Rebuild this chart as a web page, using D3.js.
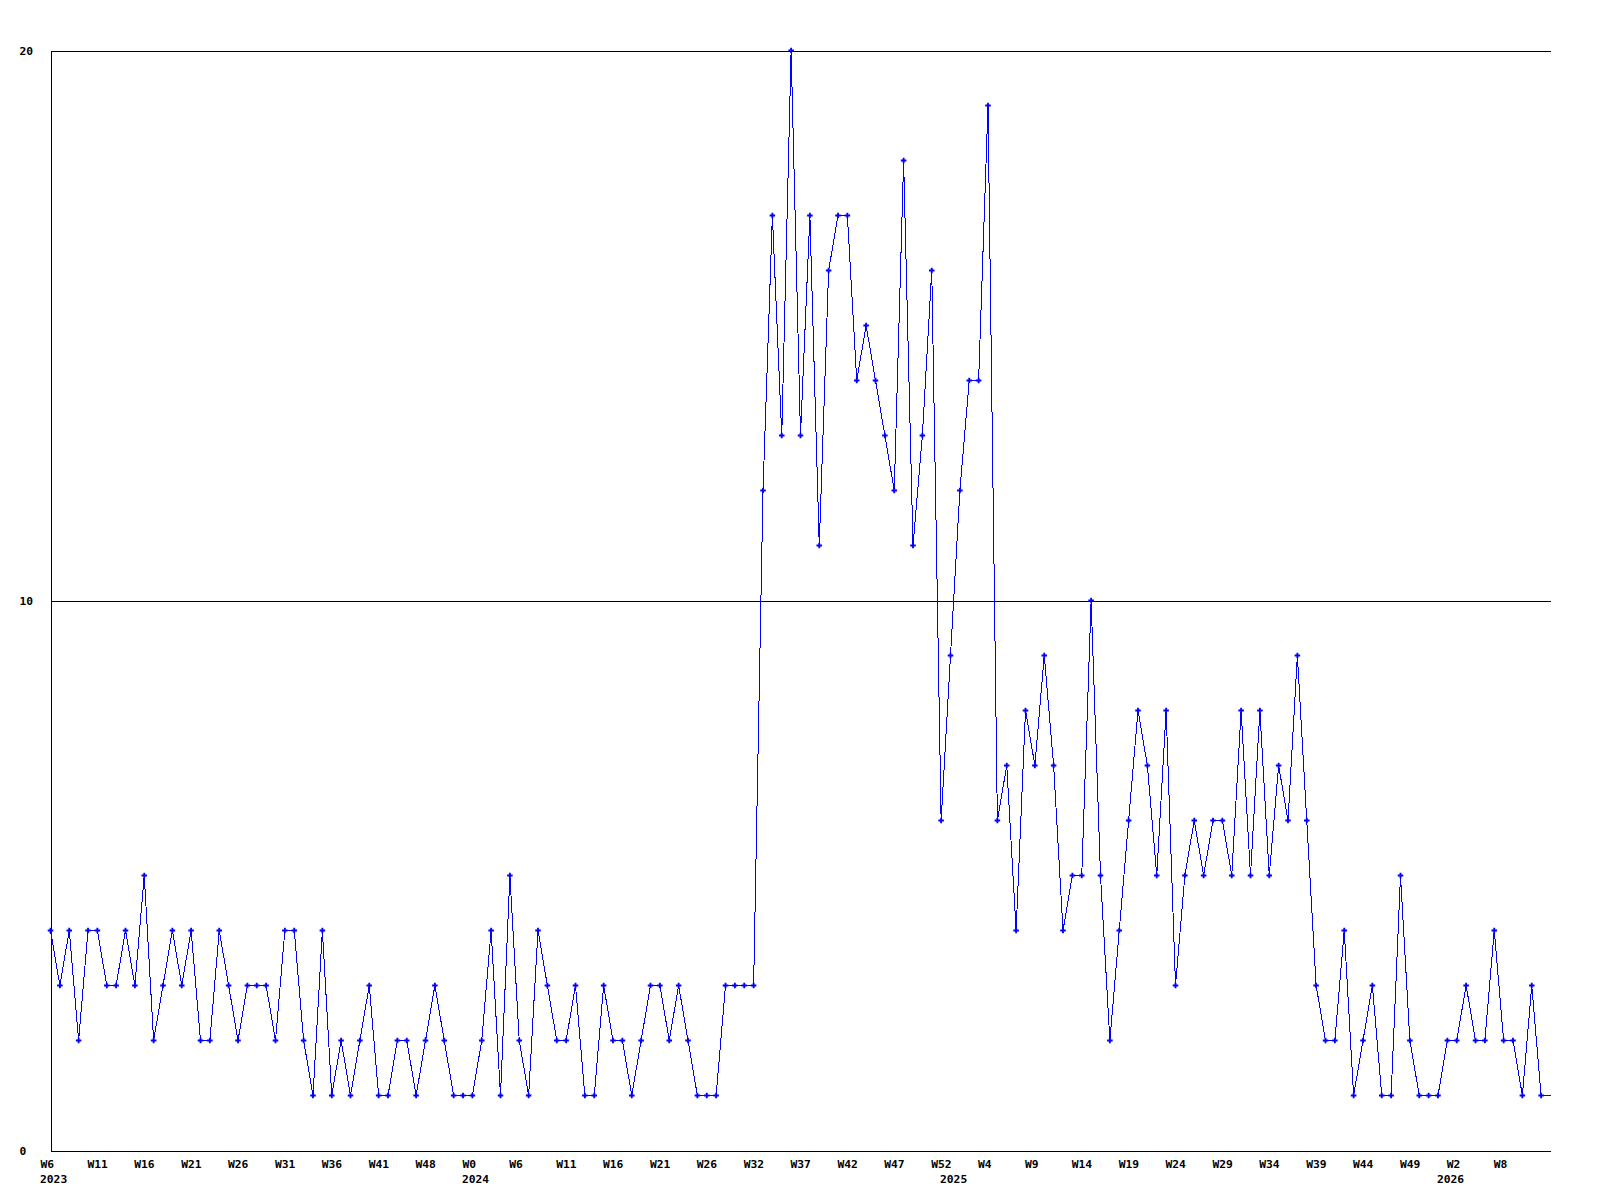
<!DOCTYPE html>
<html>
<head>
<meta charset="utf-8">
<script src="https://cdn.jsdelivr.net/npm/d3@7"></script>
<style>
  html, body { margin: 0; padding: 0; background: #ffffff; }
  svg { display: block; }
  text { font-family: "DejaVu Sans Mono", "Liberation Mono", monospace; font-weight: bold; font-size: 11.3px; fill: #000; }
</style>
</head>
<body>
<svg id="chart" width="1600" height="1200"></svg>
<script>
// Weekly counts, W6 2023 .. W10 2026 (last value is the current, open week)
const weekValues = [
  4,3,4,2,4,4,3,3,4,3,
  5,2,3,4,3,4,2,2,4,3,
  2,3,3,3,2,4,4,2,1,4,
  1,2,1,2,3,1,1,2,2,1,
  2,3,2,1,1,1,2,4,1,5,
  2,1,4,3,2,2,3,1,1,3,
  2,2,1,2,3,3,2,3,2,1,
  1,1,3,3,3,3,12,17,13,20,
  13,17,11,16,17,17,14,15,14,13,
  12,18,11,13,16,6,9,12,14,14,
  19,6,7,4,8,7,9,7,4,5,
  5,10,5,2,4,6,8,7,5,8,
  3,5,6,5,6,6,5,8,5,8,
  5,7,6,9,6,3,2,2,4,1,
  2,3,1,1,5,2,1,1,1,2,
  2,3,2,2,4,2,2,1,3,1,
  1
];

// x-axis week labels (index of the week in weekValues, label text)
const tickIndex  = [0,5,10,15,20,25,30,35,40,45,50,55,60,65,70,75,80,85,90,95,100,105,110,115,120,125,130,135,140,145,150,155];
const tickLabels = ["W6","W11","W16","W21","W26","W31","W36","W41","W48","W0","W6","W11","W16","W21","W26","W32","W37","W42","W47","W52","W4","W9","W14","W19","W24","W29","W34","W39","W44","W49","W2","W8"];

// year labels under the first week of each year
const yearIndex  = [0, 45, 96, 149];
const yearLabels = ["2023", "2024", "2025", "2026"];

// y-axis ticks
const yTicks = [0, 10, 20];

const svg = d3.select("#chart");
svg.append("rect").attr("width", 1600).attr("height", 1200).attr("fill", "#ffffff");

const plotLeft = 50.5, plotRight = 1550.5, plotTop = 50.5, plotBottom = 1150.5;

const x = d3.scaleLinear().domain([0, weekValues.length - 1]).range([plotLeft, plotRight]);
const y = d3.scaleLinear().domain([0, 20]).range([plotBottom, plotTop]);

// Y axis with gridlines
const yAxis = svg.append("g")
  .attr("transform", `translate(${plotLeft},0)`)
  .call(d3.axisLeft(y).tickValues(yTicks).tickSize(-(plotRight - plotLeft)).tickSizeOuter(0).tickFormat(d3.format("d")));
yAxis.attr("font-family", null).attr("font-size", null);
yAxis.select(".domain").attr("stroke", "#000").attr("shape-rendering", "crispEdges");
yAxis.selectAll(".tick line").attr("stroke", "#000").attr("shape-rendering", "crispEdges");
yAxis.selectAll(".tick text")
  .attr("text-anchor", "start")
  .attr("x", 19.5 - plotLeft)
  .attr("dy", "0.35em");

// X axis
const xAxis = svg.append("g")
  .attr("transform", `translate(0,${plotBottom})`)
  .call(d3.axisBottom(x).tickValues(tickIndex).tickSize(0).tickSizeOuter(0)
        .tickFormat((d, i) => tickLabels[i]));
xAxis.attr("font-family", null).attr("font-size", null);
xAxis.select(".domain").attr("stroke", "#000").attr("shape-rendering", "crispEdges");
xAxis.selectAll(".tick text")
  .attr("text-anchor", "start")
  .attr("x", -10.5)
  .attr("y", 17)
  .attr("dy", 0);

// Year labels
svg.append("g").selectAll("text")
  .data(yearIndex)
  .join("text")
  .attr("x", d => x(d) - 10.5)
  .attr("y", plotBottom + 32.5)
  .text((d, i) => yearLabels[i]);

// Data line
const line = d3.line().x((d, i) => x(i)).y(d => y(d));
svg.append("path")
  .datum(weekValues)
  .attr("d", line)
  .attr("fill", "none")
  .attr("stroke", "#0000ff")
  .attr("stroke-width", 1)
  .attr("shape-rendering", "crispEdges");

// Markers (none on the open last week)
const cross = d3.symbol().type(d3.symbolCross).size(17);
svg.append("g").selectAll("path")
  .data(weekValues.slice(0, weekValues.length - 1))
  .join("path")
  .attr("transform", (d, i) => `translate(${x(i)},${y(d)})`)
  .attr("d", cross)
  .attr("fill", "#0000ff");
</script>
</body>
</html>
